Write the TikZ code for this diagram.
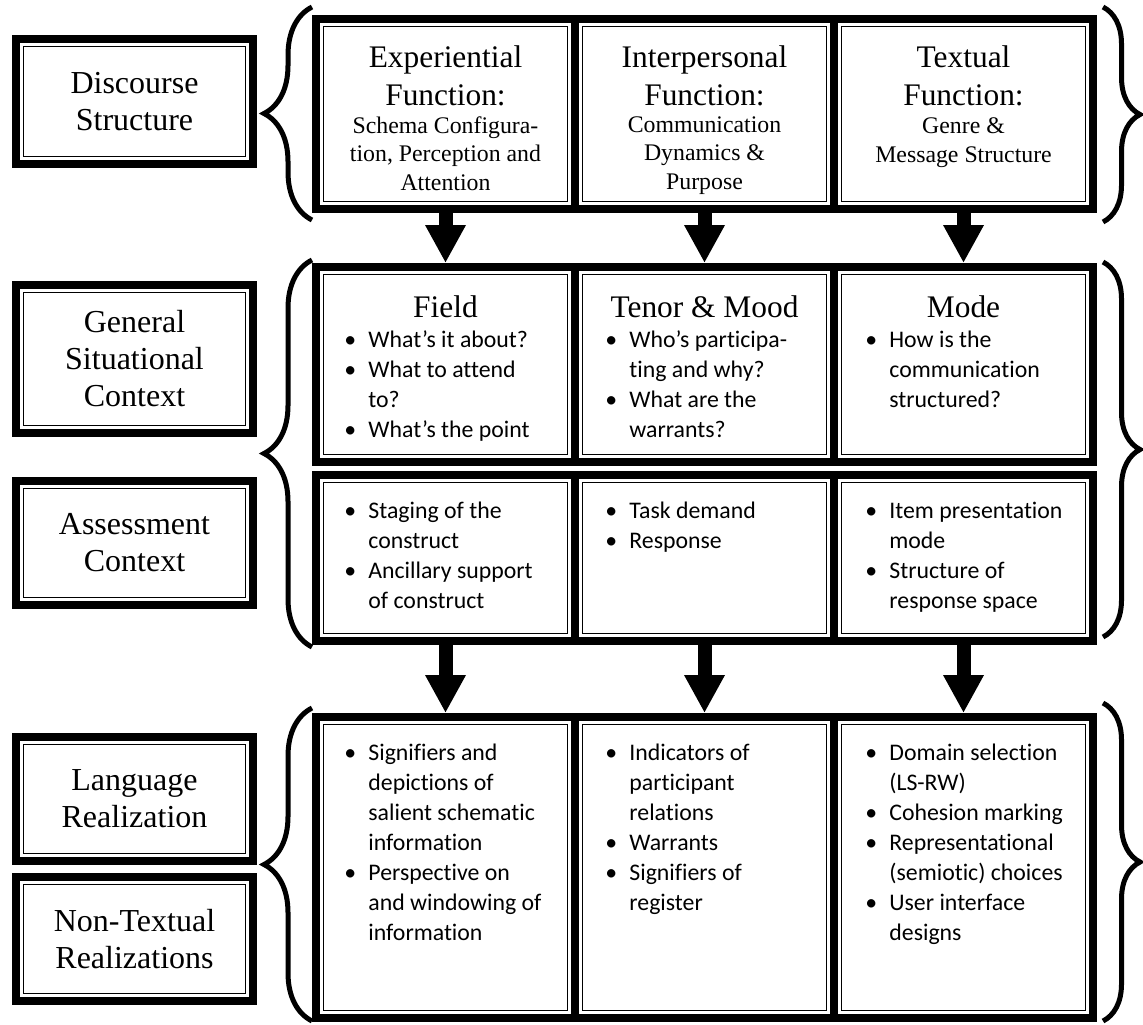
\documentclass[tikz,border=0pt]{standalone}
\usepackage{fontspec}
\setmainfont{Liberation Serif}
\newfontfamily\calfont[Ligatures={NoCommon}]{Carlito}
\usetikzlibrary{arrows.meta,decorations.pathreplacing}

\tikzset{
  frm/.style={draw, line width=4pt, inner sep=0pt},
  lbl/.style={frm, minimum width=118.5pt, align=center, font=\fontsize{16}{18.5}\selectfont},
  cell/.style={frm, minimum width=129.5pt},
  ttl/.style={inner sep=0pt, align=center, anchor=base, font=\fontsize{15.7}{19}\selectfont},
  sub/.style={inner sep=0pt, align=center, anchor=base, font=\fontsize{11.9}{14.25}\selectfont},
  pts/.style={inner sep=0pt, align=left, anchor=base west, font=\fontsize{11.9}{15}\selectfont\calfont},
  down/.style={line width=7pt, -{Triangle[length=19pt,width=19pt]}},
  lbrc/.style={line width=2.5pt, decorate, decoration={brace, amplitude=24pt}},
  rbrc/.style={line width=2.5pt, decorate, decoration={brace, amplitude=18.5pt}},
}
\newcommand{\bul}{\makebox[12pt][l]{\textbullet}}
\newcommand{\hng}{\hspace*{12pt}}

\begin{document}
\begin{tikzpicture}[x=0.5pt, y=-0.5pt]
  \useasboundingbox (0,0) rectangle (1143,1024);

  % left labels
  \begin{scope}[every node/.style={lbl}]
    \node[minimum height=62.5pt] (ds)  at (134.5,101.5) {Discourse\\Structure};
    \node[minimum height=74pt]   (gsc) at (134.5,359)   {General\\Situational\\Context};
    \node[minimum height=62pt]   (ac)  at (134.5,543)   {Assessment\\Context};
    \node[minimum height=62pt]   (lr)  at (134.5,799)   {Language\\Realization};
    \node[minimum height=62pt]   (ntr) at (134.5,939)   {Non-Textual\\Realizations};
  \end{scope}

  % cells
  \begin{scope}[every node/.style={cell}]
    \node[minimum height=95pt]    (exper)  at (445.5,114) {};
    \node[minimum height=95pt]    (inter)  at (704.5,114) {};
    \node[minimum height=95pt]    (textu)  at (963.5,114) {};
    \node[minimum height=97.5pt]  (field)  at (445.5,364.5) {};
    \node[minimum height=97.5pt]  (tenor)  at (704.5,364.5) {};
    \node[minimum height=97.5pt]  (mode)   at (963.5,364.5) {};
    \node[minimum height=83pt]    (stage)  at (445.5,558) {};
    \node[minimum height=83pt]    (task)   at (704.5,558) {};
    \node[minimum height=83pt]    (item)   at (963.5,558) {};
    \node[minimum height=150.5pt] (signif) at (445.5,867.5) {};
    \node[minimum height=150.5pt] (indic)  at (704.5,867.5) {};
    \node[minimum height=150.5pt] (domain) at (963.5,867.5) {};
  \end{scope}

  \foreach \n in {ds,gsc,ac,lr,ntr,exper,inter,textu,field,tenor,mode,stage,task,item,signif,indic,domain}
    \draw[line width=0.75pt] ([shift={(5.75pt,-5.75pt)}]\n.north west) rectangle ([shift={(-5.75pt,5.75pt)}]\n.south east);

  % headings (placed by their last baseline)
  \node[ttl] (experT) at (445.5,105) {Experiential\\Function:};
  \node[sub] (experS) at (445.5,190) {Schema Configura-\\tion, Perception and\\Attention};
  \node[ttl] (interT) at (704.5,105) {Interpersonal\\Function:};
  \node[sub] (interS) at (704.5,189) {Communication\\Dynamics \&\\Purpose};
  \node[ttl] (textuT) at (963.5,105) {Textual\\Function:};
  \node[sub] (textuS) at (963.5,162) {Genre \&\\Message Structure};

  \node[ttl] (fieldT) at (445.5,317) {Field};
  \node[ttl] (tenorT) at (704.5,317) {Tenor \& Mood};
  \node[ttl] (modeT)  at (963.5,317) {Mode};

  % bullet lists
  \node[pts] (fieldP) at (344,437) {\bul What’s it about?\\\bul What to attend\\\hng to?\\\bul What’s the point};
  \node[pts] (tenorP) at (605,437) {\bul Who’s participa-\\\hng ting and why?\\\bul What are the\\\hng warrants?};
  \node[pts] (modeP)  at (865,407) {\bul How is the\\\hng communication\\\hng structured?};

  \node[pts] (stageP) at (344,608) {\bul Staging of the\\\hng construct\\\bul Ancillary support\\\hng of construct};
  \node[pts] (taskP)  at (605,548) {\bul Task demand\\\bul Response};
  \node[pts] (itemP)  at (865,608) {\bul Item presentation\\\hng mode\\\bul Structure of\\\hng response space};

  \node[pts] (signifP) at (344,940) {\bul Signifiers and\\\hng depictions of\\\hng salient schematic\\\hng information\\\bul Perspective on\\\hng and windowing of\\\hng information};
  \node[pts] (indicP)  at (605,910) {\bul Indicators of\\\hng participant\\\hng relations\\\bul Warrants\\\bul Signifiers of\\\hng register};
  \node[pts] (domainP) at (865,940) {\bul Domain selection\\\hng (LS-RW)\\\bul Cohesion marking\\\bul Representational\\\hng (semiotic) choices\\\bul User interface\\\hng designs};

  % arrows
  \draw[down] (exper.south) -- (field.north);
  \draw[down] (inter.south) -- (tenor.north);
  \draw[down] (textu.south) -- (mode.north);
  \draw[down] (stage.south) -- (signif.north);
  \draw[down] (task.south) -- (indic.north);
  \draw[down] (item.south) -- (domain.north);

  % braces
  \coordinate (la1) at (312,220);  \coordinate (la2) at (312,7);
  \coordinate (ra1) at (1103,7);   \coordinate (ra2) at (1103,222);
  \coordinate (lb1) at (312,647);  \coordinate (lb2) at (312,260);
  \coordinate (rb1) at (1103,262); \coordinate (rb2) at (1103,637);
  \coordinate (lc1) at (312,1021); \coordinate (lc2) at (312,708);
  \coordinate (rc1) at (1103,703); \coordinate (rc2) at (1103,1021);
  \draw[lbrc] (la1) -- (la2);
  \draw[rbrc] (ra1) -- (ra2);
  \draw[lbrc] (lb1) -- (lb2);
  \draw[rbrc] (rb1) -- (rb2);
  \draw[lbrc] (lc1) -- (lc2);
  \draw[rbrc] (rc1) -- (rc2);
\end{tikzpicture}
\end{document}
